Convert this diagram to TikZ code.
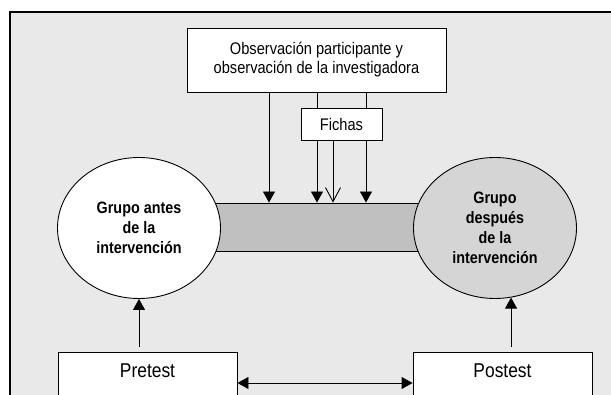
\documentclass[tikz,border=0pt]{standalone}
\usepackage{fontspec}
\setmainfont{Liberation Sans}[FakeStretch=0.87]
\usepackage{tikz}
\usetikzlibrary{positioning,arrows.meta,shapes.geometric}
\definecolor{fondo}{RGB}{233,233,233}
\definecolor{barra}{RGB}{192,192,192}
\definecolor{punteado}{RGB}{213,213,213}

\begin{document}
\begin{tikzpicture}[x=1pt,y=-1pt,
  caja/.style={draw,fill=white,line width=0.9pt,inner sep=0pt,align=center,
    font=\fontsize{16.8}{19}\selectfont},
  prueba/.style={caja,minimum width=179pt,text height=25pt,text depth=45pt,anchor=north,
    font=\fontsize{20}{24}\selectfont},
  grupo/.style={draw,ellipse,line width=0.9pt,minimum width=163pt,minimum height=141pt,
    inner sep=0pt,align=center,font=\bfseries\fontsize{16.5}{20}\selectfont},
  flecha/.style={-{Triangle[length=11pt,width=12pt]},line width=0.9pt},
  doble/.style={{Triangle[length=11pt,width=12pt]}-{Triangle[length=11pt,width=12pt]},line width=0.9pt},
  abierta/.style={-{Straight Barb[length=14pt,width=15pt]},line width=0.9pt}]

  \clip (0,0) rectangle (611,395);
  \fill[white] (0,0) rectangle (611,395);
  \filldraw[fill=fondo,line width=1.3pt] (10,12) rectangle (640,430);

  % barra central y grupos
  \node[draw,fill=barra,line width=0.9pt,minimum width=230pt,minimum height=48pt,inner sep=0pt] (barra) at (315,227) {};
  \node[grupo,fill=white] (antes) at (139,228) {Grupo antes\\de la\\intervención};
  \node[grupo,fill=punteado] (despues) at (495,228) {Grupo\\después\\de la\\intervención};

  % observacion
  \node[caja,minimum width=259pt,minimum height=64pt] (obs) at (316.5,60)
    {Observación participante y\\observación de la investigadora};
  \coordinate (l1) at (269,0);
  \coordinate (l2) at (317,0);
  \coordinate (l3) at (366,0);
  \coordinate (l4) at (333,0);
  \draw[flecha] (obs.south -| l1) -- (barra.north -| l1);
  \draw[flecha] (obs.south -| l2) -- (barra.north -| l2);
  \draw[flecha] (obs.south -| l3) -- (barra.north -| l3);

  \node[caja,minimum width=81pt,minimum height=32pt] (fichas) at (341.5,124) {Fichas};
  \draw[abierta] (fichas.south -| l4) -- (barra.north -| l4);

  % pretest y postest
  \node[prueba] (pre) at (147.5,352) {Pretest};
  \node[prueba] (post) at (502.5,352) {Postest};
  \draw[flecha] ([yshift=5pt]pre.north -| antes.south) -- (antes.south);
  \draw[flecha] ([yshift=5pt]post.north -| despues.-77) -- (despues.-77);
  \coordinate (nivel) at (0,383);
  \draw[doble] (pre.east |- nivel) -- (post.west |- nivel);
\end{tikzpicture}
\end{document}
